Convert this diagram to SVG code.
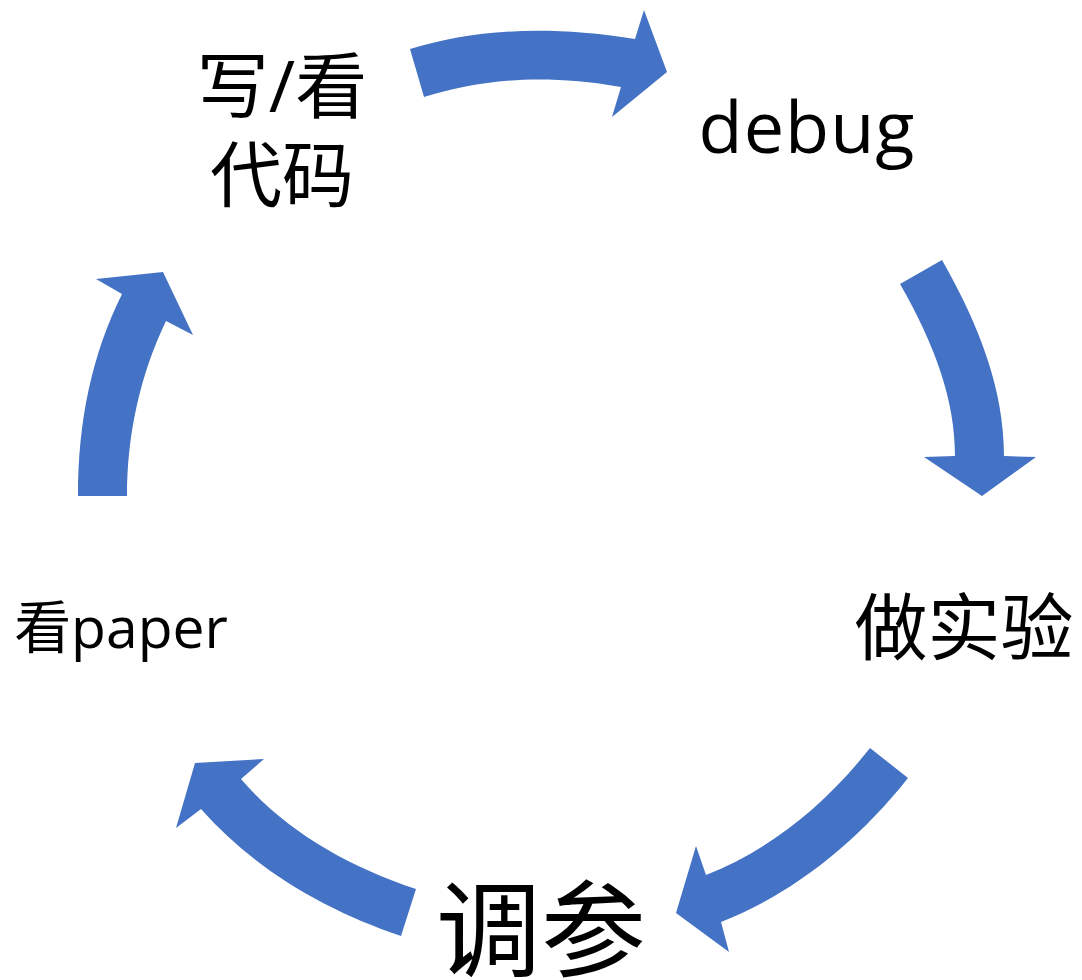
<svg xmlns="http://www.w3.org/2000/svg" width="1082" height="980" viewBox="0 0 1082 980">
<style>
.arrow{fill:#4472C4;stroke:none}
.lbl{fill:#000;font-family:"Open Sans","Noto Sans CJK SC",sans-serif}
</style>
<rect width="1082" height="980" fill="#fff"/>
<g id="connectors">
<path class="arrow" d="M410,49 C470,31 540,24 635,39 L644,10 L667,72 L612,117 L621,87 C540,73 480,80 424,97 Z"/>
<path class="arrow" d="M942,260 C980,327 1004,390 1004,456 L1036,457 L982,496 L924,457 L955,456 C955,400 935,345 900,284 Z"/>
<path class="arrow" d="M870,748 L908,778 C855,845 790,895 721,922 L729,952 L676,913 L696,846 L706,875 C770,850 825,805 870,748 Z"/>
<path class="arrow" d="M416,889 C345,865 285,830 241,779 L264,759 L195,763 L176,828 L201,809 C255,870 325,910 401,936 Z"/>
<path class="arrow" d="M78,496 C78,420 92,355 122,294 L96,279 L163,272 L193,335 L166,321 C140,375 127,435 127,496 Z"/>
</g>
<g id="node-code">
<text class="lbl" x="282" y="112" font-size="72" text-anchor="middle">写/看</text>
<text class="lbl" x="282" y="201" font-size="72" text-anchor="middle">代码</text>
</g>
<g id="node-debug">
<text class="lbl" x="807" y="153" font-size="72" letter-spacing="1" text-anchor="middle">debug</text>
</g>
<g id="node-experiment">
<text class="lbl" x="964" y="654" font-size="73" text-anchor="middle">做实验</text>
</g>
<g id="node-tune">
<text class="lbl" x="541" y="968" font-size="105" text-anchor="middle">调参</text>
</g>
<g id="node-paper">
<text class="lbl" x="121" y="648" font-size="57" text-anchor="middle">看paper</text>
</g>
</svg>
